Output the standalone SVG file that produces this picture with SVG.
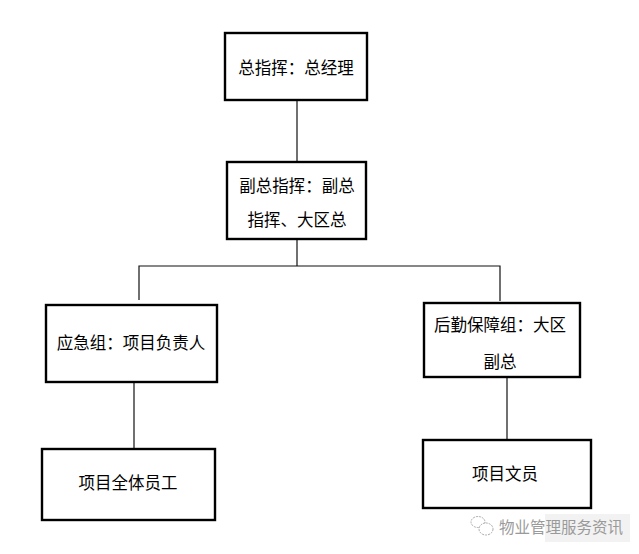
<svg xmlns="http://www.w3.org/2000/svg" width="639" height="554" viewBox="0 0 639 554">
<style>
.box{fill:#fff;stroke:#000;stroke-width:2.4}
.t{font-family:"Noto Sans CJK SC","Noto Sans",sans-serif;font-size:16.5px;fill:#000;text-anchor:middle}
.c{stroke:#111;stroke-width:1.2;fill:none}
.wm{font-family:"Noto Sans CJK SC",sans-serif;font-size:15.5px;fill:#9a9a9a}
</style>
<rect width="639" height="554" fill="#fff"/>
<g id="connectors">
<line class="c" x1="297" y1="101" x2="297" y2="161"/>
<line class="c" x1="297" y1="240" x2="297" y2="266"/>
<polyline class="c" points="139,300 139,266 500,266 500,301"/>
<line class="c" x1="134" y1="383" x2="134" y2="448"/>
<line class="c" x1="507" y1="378" x2="507" y2="439"/>
</g>
<g id="n1">
<rect class="box" x="225" y="33" width="142" height="67"/>
<text class="t" x="296" y="74">总指挥：总经理</text>
</g>
<g id="n2">
<rect class="box" x="227" y="162" width="139" height="77"/>
<text class="t" x="297" y="192">副总指挥：副总</text>
<text class="t" x="297" y="226">指挥、大区总</text>
</g>
<g id="n3">
<rect class="box" x="46" y="305" width="171" height="77"/>
<text class="t" x="131" y="349">应急组：项目负责人</text>
</g>
<g id="n4">
<rect class="box" x="424" y="303" width="156" height="74"/>
<text class="t" x="500" y="331">后勤保障组：大区</text>
<text class="t" x="500" y="368">副总</text>
</g>
<g id="n5">
<rect class="box" x="42" y="449" width="173" height="71"/>
<text class="t" x="128" y="489">项目全体员工</text>
</g>
<g id="n6">
<rect class="box" x="423" y="440" width="168" height="68"/>
<text class="t" x="505" y="480">项目文员</text>
</g>
<g id="watermark">
<rect x="545" y="514" width="85" height="28" fill="#f2f2f2"/>
<ellipse cx="478" cy="522" rx="7" ry="5.5" fill="none" stroke="#aaa" stroke-width="1" stroke-dasharray="2,1"/>
<ellipse cx="486" cy="529" rx="7" ry="6" fill="#fff" stroke="#aaa" stroke-width="1" stroke-dasharray="2,1"/>
<text class="wm" x="499" y="533">物业管理服务资讯</text>
</g>
</svg>
